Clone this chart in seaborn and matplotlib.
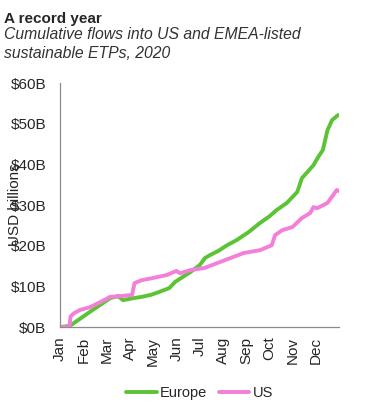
import pandas as pd
import seaborn as sns
import matplotlib.pyplot as plt
from matplotlib.ticker import FuncFormatter

# month position (0 = 1 Jan, 12 = 31 Dec) and cumulative flows, USD billions
europe_x = [0.0, 0.3, 0.45, 0.6, 1.0, 1.4, 1.72, 2.15, 2.5, 2.7, 3.15, 3.5, 3.9, 4.3, 4.7,
            4.95, 5.3, 5.6, 6.0, 6.24, 6.45, 6.8, 7.18, 7.6, 8.1, 8.6, 9.0, 9.3, 9.75,
            10.2, 10.4, 10.65, 10.9, 11.1, 11.3, 11.5, 11.7, 11.85, 11.95]
europe_y = [0.0, 0.2, 0.4, 1.0, 2.6, 4.2, 5.4, 7.1, 7.6, 6.6, 7.1, 7.4, 7.9, 8.7, 9.6,
            11.1, 12.4, 13.5, 15.2, 17.0, 17.7, 18.7, 20.1, 21.4, 23.3, 25.6, 27.2, 28.7, 30.5,
            33.2, 36.6, 38.2, 39.8, 41.8, 43.5, 48.4, 50.9, 51.6, 52.1]

us_x = [0.0, 0.4, 0.45, 0.6, 0.86, 1.29, 1.72, 2.15, 2.6, 3.1, 3.2, 3.5, 3.95, 4.6, 5.0,
        5.16, 5.6, 6.2, 6.75, 7.3, 7.9, 8.6, 9.1, 9.25, 9.55, 10.0, 10.4, 10.75, 10.9,
        11.05, 11.5, 11.9, 12.0]
us_y = [0.0, 0.0, 2.6, 3.4, 4.2, 4.9, 6.1, 7.4, 7.6, 7.9, 10.8, 11.5, 12.0, 12.8, 13.8,
        13.2, 14.0, 14.5, 15.7, 16.9, 18.2, 18.9, 20.1, 22.6, 23.8, 24.6, 26.8, 28.0, 29.5,
        29.2, 30.5, 33.7, 33.4]

months = ['Jan', 'Feb', 'Mar', 'Apr', 'May', 'Jun', 'Jul', 'Aug', 'Sep', 'Oct', 'Nov', 'Dec']
y_ticks = [0, 10, 20, 30, 40, 50, 60]

df = pd.concat([
    pd.DataFrame({'Month': europe_x, 'Flows': europe_y, 'Region': 'Europe'}),
    pd.DataFrame({'Month': us_x, 'Flows': us_y, 'Region': 'US'}),
])

sns.set_style('white')
plt.rcParams['font.family'] = ['Liberation Sans', 'DejaVu Sans']

fig = plt.figure(figsize=(3.71, 4.15), dpi=100)
ax = fig.add_axes([0.162, 0.212, 0.752, 0.588])

sns.lineplot(data=df, x='Month', y='Flows', hue='Region', sort=False,
             palette={'Europe': '#5CC334', 'US': '#F47FD8'}, linewidth=2.8, ax=ax)
for line in ax.get_lines():
    line.set_solid_joinstyle('round')
    line.set_solid_capstyle('round')

ax.set_xlim(0, 12)
ax.set_ylim(0, 60)
ax.set_xticks(range(12))
ax.set_xticklabels(months, rotation=90, fontsize=11)
ax.set_yticks(y_ticks)
ax.yaxis.set_major_formatter(FuncFormatter(lambda v, p: f'${v:.0f}B'))
ax.tick_params(axis='y', labelsize=11, length=0, pad=10)
ax.tick_params(axis='x', length=0, pad=7)
ax.set_xlabel('')
# the y label sits on top of the tick labels, as in the original
ax.set_ylabel('USD billions', fontsize=11)
ax.yaxis.set_label_coords(-0.135, 0.5)

for s in ['top', 'right']:
    ax.spines[s].set_visible(False)
for s in ['left', 'bottom']:
    ax.spines[s].set_color('#8c8c8c')
    ax.spines[s].set_linewidth(0.9)

leg = ax.legend(loc='center', bbox_to_anchor=(0.5, -0.27), ncol=2, frameon=False,
                fontsize=10.5, handlelength=2.1, handletextpad=0.2, columnspacing=0.8)
for line in leg.get_lines():
    line.set_linewidth(2.8)

fig.text(0.012, 0.955, 'A record year', fontsize=11, fontweight='bold', va='center')
fig.text(0.012, 0.894, 'Cumulative flows into US and EMEA-listed\nsustainable ETPs, 2020',
         fontsize=11.3, style='italic', va='center', color='#333333', linespacing=1.3)

plt.savefig('out.png', dpi=100)
